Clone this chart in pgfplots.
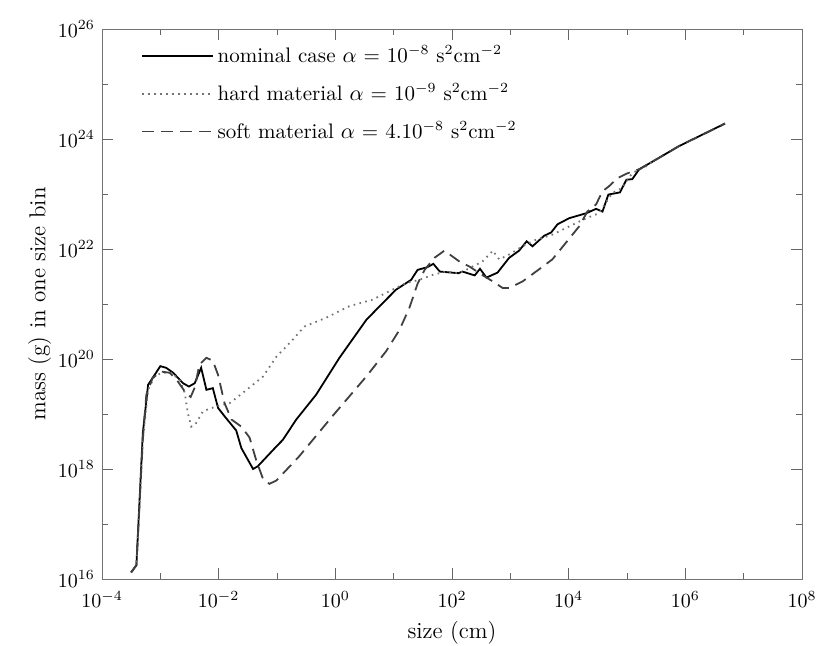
\documentclass[border=0pt]{standalone}
\usepackage{pgfplots}
\pgfplotsset{compat=1.18}
\begin{document}
\begin{tikzpicture}
\begin{axis}[
  scale only axis, width=350pt, height=275pt,
  xmode=log, ymode=log,
  xmin=1e-4, xmax=1e8, ymin=1e16, ymax=1e26,
  xtick={1e-4,1e-2,1,1e2,1e4,1e6,1e8},
  minor xtick={1e-3,1e-1,10,1e3,1e5,1e7},
  ytick={1e16,1e18,1e20,1e22,1e24,1e26},
  minor ytick={1e17,1e19,1e21,1e23,1e25},
  major tick length=5.5pt, minor tick length=3pt,
  tick pos=both,
  axis line style={black!55},
  every tick/.style={black!60},
  xticklabel style={yshift=-2.5pt},
  xlabel={size (cm)}, ylabel={mass (g) in one size bin},
  ylabel shift=-3.5pt,
  label style={font=\fontsize{11.5}{13}\selectfont},
  legend cell align=left,
  legend style={draw=none, fill=none, at={(0.047,0.985)}, anchor=north west, row sep=5pt,
    font=\fontsize{10.5}{12}\selectfont},
  legend image code/.code={\draw[#1] (0cm,0cm) -- (1cm,0cm); \path (0cm,0cm) -- (1.24cm,0cm);},
]
\addplot[black, line width=0.9pt] coordinates {
(3.16e-4,1.32e16) (3.89e-4,1.78e16) (5.01e-4,4.47e18) (6.17e-4,3.39e19)
(1.00e-3,7.41e19) (1.26e-3,6.92e19) (1.66e-3,5.62e19) (2.45e-3,3.63e19)
(3.09e-3,3.16e19) (3.89e-3,3.63e19) (5.01e-3,6.92e19) (6.17e-3,2.75e19)
(7.94e-3,2.95e19) (9.77e-3,1.29e19) (1.26e-2,9.12e18) (2.00e-2,5.01e18)
(2.45e-2,2.40e18) (3.89e-2,1.00e18) (4.68e-2,1.12e18) (9.77e-2,2.57e18)
(1.26e-1,3.39e18) (2.14e-1,7.94e18) (4.68e-1,2.24e19) (1.175,1.05e20)
(3.39,5.13e20) (5.75,9.12e20) (10.96,1.82e21) (19.95,2.75e21)
(25.7,4.17e21) (38.0,4.68e21) (47.9,5.37e21) (61.7,3.89e21)
(129,3.63e21) (151,3.89e21) (245,3.31e21) (302,4.37e21)
(389,3.02e21) (603,3.72e21) (955,6.92e21) (1413,9.33e21)
(1905,1.38e22) (2399,1.12e22) (3802,1.74e22) (5012,2.00e22)
(6457,2.82e22) (1.02e4,3.63e22) (2.00e4,4.47e22) (2.95e4,5.37e22)
(3.80e4,4.79e22) (4.79e4,9.77e22) (7.59e4,1.07e23) (9.77e4,1.82e23)
(1.23e5,1.86e23) (1.62e5,2.82e23) (2.75e5,3.89e23) (7.76e5,7.41e23)
(4.79e6,1.91e24)
};
\addlegendentry{nominal case $\alpha$ = 10$^{-8}$ s$^{2}$cm$^{-2}$}
\addplot[black!55, line width=0.9pt, dash pattern=on 0.8pt off 2.2pt] coordinates {
(3.16e-4,1.32e16) (3.89e-4,1.78e16) (5.01e-4,3.39e18) (6.17e-4,2.75e19)
(7.94e-4,4.79e19) (1.05e-3,5.62e19) (1.55e-3,5.62e19) (2.14e-3,4.17e19)
(2.63e-3,2.40e19) (2.95e-3,1.05e19) (3.39e-3,5.89e18) (3.98e-3,6.46e18)
(5.37e-3,1.12e19) (9.12e-3,1.38e19) (1.55e-2,1.58e19) (2.57e-2,2.40e19)
(5.75e-2,4.79e19) (9.77e-2,1.10e20) (1.86e-1,2.24e20) (2.95e-1,3.89e20)
(6.92e-1,5.62e20) (1.74,9.12e20) (4.37,1.20e21) (9.55,1.82e21)
(16.2,2.40e21) (27.5,2.75e21) (46.8,3.39e21) (79.4,3.89e21)
(135,3.63e21) (224,4.79e21) (331,5.89e21) (501,9.33e21)
(646,6.46e21) (955,7.94e21) (1622,1.12e22) (2754,1.48e22)
(5248,1.82e22) (1.02e4,2.57e22) (2.00e4,3.63e22) (3.31e4,4.47e22)
(5.62e4,1.05e23) (8.32e4,1.29e23) (1.23e5,2.40e23) (2.09e5,3.16e23)
(2.75e5,3.89e23)
};
\addlegendentry{hard material $\alpha$ = 10$^{-9}$ s$^{2}$cm$^{-2}$}
\addplot[black!75, line width=0.9pt, dash pattern=on 6pt off 3.5pt] coordinates {
(3.16e-4,1.32e16) (3.89e-4,1.78e16) (5.01e-4,3.39e18) (5.75e-4,2.24e19)
(7.41e-4,4.57e19) (1.05e-3,5.89e19) (1.45e-3,5.62e19) (2.00e-3,3.89e19)
(2.75e-3,2.40e19) (3.31e-3,2.04e19) (3.89e-3,3.02e19) (4.68e-3,7.94e19)
(6.17e-3,1.05e20) (7.94e-3,9.33e19) (9.77e-3,5.13e19) (1.26e-2,1.58e19)
(1.66e-2,7.94e18) (2.45e-2,5.89e18) (3.39e-2,3.72e18) (4.37e-2,1.48e18)
(5.75e-2,6.61e17) (7.41e-2,5.37e17) (9.77e-2,6.17e17) (2.40e-1,1.70e18)
(8.91e-1,9.12e18) (3.39,4.79e19) (7.41,1.38e20) (12.6,3.39e20)
(18.6,8.51e20) (25.7,2.34e21) (33.9,4.17e21) (50.1,6.92e21)
(74.1,9.33e21) (135,5.89e21) (200,4.79e21) (295,3.63e21)
(501,2.57e21) (741,1.95e21) (955,1.95e21) (1622,2.57e21)
(2754,3.89e21) (5248,6.46e21) (8913,1.29e22) (1.51e4,2.57e22)
(2.09e4,4.79e22) (2.95e4,6.46e22) (3.80e4,1.12e23) (4.90e4,1.38e23)
(6.92e4,1.95e23) (9.77e4,2.34e23) (1.62e5,2.82e23) (2.75e5,3.89e23)
(7.76e5,7.41e23) (4.79e6,1.91e24)
};
\addlegendentry{soft material $\alpha$ = 4.10$^{-8}$ s$^{2}$cm$^{-2}$}
\end{axis}
\pgfresetboundingbox
\path[use as bounding box] (-51pt,-33pt) rectangle (364pt,289.5pt);
\end{tikzpicture}
\end{document}
